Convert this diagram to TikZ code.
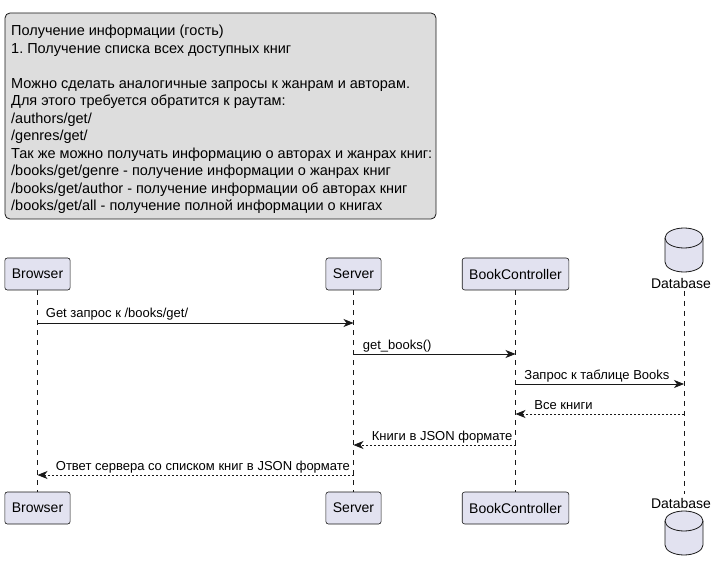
\documentclass[tikz,border=0pt]{standalone}
\usepackage{fontspec}
\setmainfont{Liberation Sans}
\usetikzlibrary{arrows.meta}
\definecolor{partfill}{HTML}{E2E2F0}
\definecolor{ink}{HTML}{181818}
\definecolor{notefill}{HTML}{DDDDDD}
\frenchspacing
\begin{document}
\begin{tikzpicture}[x=1pt,y=-1pt,
  participant/.style={draw=ink, fill=partfill, rounded corners=2.5pt, line width=0.6pt,
    minimum height=32pt, inner xsep=7pt, inner ysep=0pt, font=\fontsize{14}{16}\selectfont},
  dblabel/.style={inner sep=0pt, font=\fontsize{14}{16}\selectfont},
  lifeline/.style={draw=ink, line width=0.5pt, dash pattern=on 5pt off 5pt},
  msg/.style={draw=ink, line width=0.8pt, -{Stealth[length=10pt,width=8pt,inset=3pt]}},
  reply/.style={msg, dash pattern=on 2pt off 2pt},
  msglabel/.style={inner sep=0pt, anchor=base west, font=\fontsize{13}{15}\selectfont},
  notebox/.style={draw=ink, fill=notefill, rounded corners=5pt, line width=0.8pt},
  notetext/.style={inner sep=0pt, anchor=base west, align=left,
    font=\fontsize{14.5}{17.5}\selectfont},
  dbcyl/.pic={
    \path[draw=ink, fill=partfill, line width=0.8pt]
      (-19,-12) -- (-19,12) arc[start angle=180, end angle=0, x radius=19, y radius=10]
      -- (19,-12) arc[start angle=0, end angle=-180, x radius=19, y radius=10] -- cycle;
    \draw[ink, line width=0.8pt]
      (-19,-12) arc[start angle=180, end angle=0, x radius=19, y radius=10];
  }]
\useasboundingbox (0,0) rectangle (718,572);

% note above the diagram (the text node's base is its last line)
\draw[notebox] (5,13) rectangle (436,219);
\node[notetext] (note) at (11,211) {Получение информации (гость)\\
1. Получение списка всех доступных книг\\
\\
Можно сделать аналогичные запросы к жанрам и авторам.\\
Для этого требуется обратится к раутам:\\
/authors/get/\\
/genres/get/\\
Так же можно получать информацию о авторах и жанрах книг:\\
/books/get/genre - получение информации о жанрах книг\\
/books/get/author - получение информации об авторах книг\\
/books/get/all - получение полной информации о книгах};

% participants (top row)
\node[participant] (browserTop) at (37.5,274) {Browser};
\node[participant] (serverTop) at (353.5,274) {Server};
\node[participant] (ctrlTop) at (515.5,274) {BookController};
\pic at (684,250) {dbcyl};
\node[dblabel] (dbTop) at (681,283) {Database};

% participants (bottom row)
\node[participant] (browserBot) at (37.5,508) {Browser};
\node[participant] (serverBot) at (353.5,508) {Server};
\node[participant] (ctrlBot) at (515.5,508) {BookController};
\node[dblabel] (dbBot) at (681,503) {Database};
\pic at (684,533) {dbcyl};

% lifelines
\coordinate (dbLineTop) at (684,291);
\coordinate (dbLineBot) at (684,494);
\draw[lifeline] (browserTop.south) -- (browserBot.north);
\draw[lifeline] (serverTop.south) -- (serverBot.north);
\draw[lifeline] (ctrlTop.south) -- (ctrlBot.north);
\draw[lifeline] (dbLineTop) -- (dbLineBot);

% messages
\draw[msg] (browserTop.south |- 0,323) -- (serverTop.south |- 0,323)
  node[msglabel, pos=0, xshift=8pt, yshift=5pt] {Get запрос к /books/get/};
\draw[msg] (serverTop.south |- 0,354) -- (ctrlTop.south |- 0,354)
  node[msglabel, pos=0, xshift=9pt, yshift=5pt] {get\_books()};
\draw[msg] (ctrlTop.south |- 0,384) -- (dbLineTop |- 0,384)
  node[msglabel, pos=0, xshift=8.5pt, yshift=5pt] {Запрос к таблице Books};
\draw[reply] (dbLineTop |- 0,414) -- (ctrlTop.south |- 0,414)
  node[msglabel, pos=1, xshift=18.5pt, yshift=5pt] {Все книги};
\draw[reply] (ctrlTop.south |- 0,445) -- (serverTop.south |- 0,445)
  node[msglabel, pos=1, xshift=18pt, yshift=5pt] {Книги в JSON формате};
\draw[reply] (serverTop.south |- 0,475) -- (browserTop.south |- 0,475)
  node[msglabel, pos=1, xshift=18pt, yshift=5pt] {Ответ сервера со списком книг в JSON формате};
\end{tikzpicture}
\end{document}
